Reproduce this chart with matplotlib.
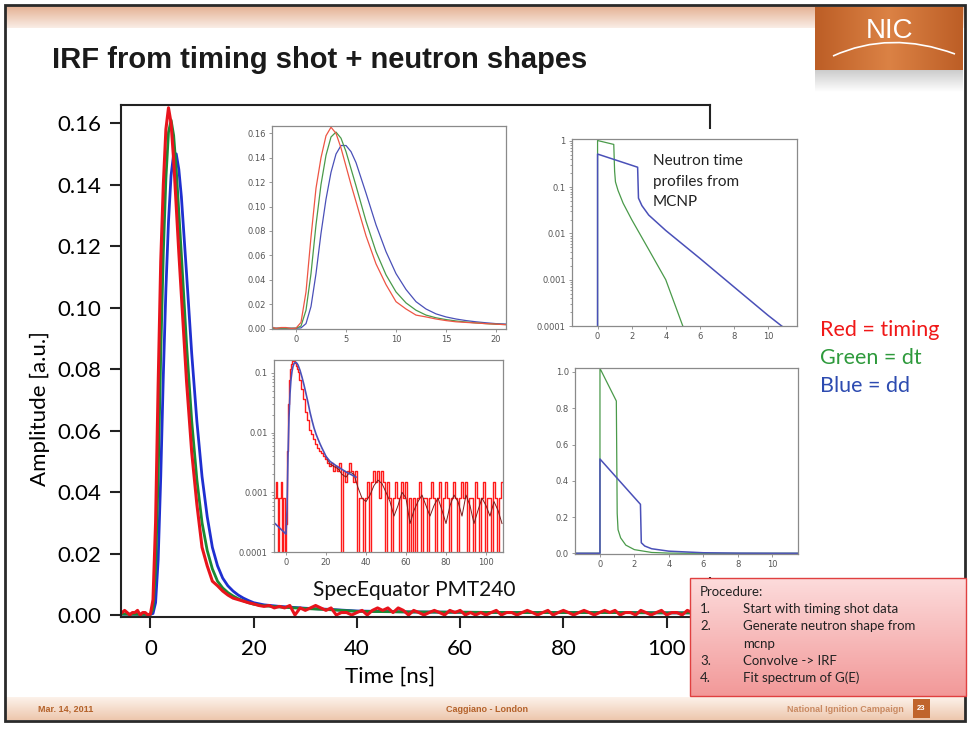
import numpy as np
import matplotlib
matplotlib.use('Agg')
import matplotlib.pyplot as plt
from matplotlib.patches import Rectangle, PathPatch
from matplotlib.path import Path
from matplotlib import font_manager

plt.rcParams['font.family'] = ['Lato', 'DejaVu Sans']

W, H = 969, 729

# timing shot (red), measured, with noisy tail
t_red = [-5.5, -5, -4.5, -4, -3.5, -3, -2.5, -2, -1.5, -1, -0.5,
         0, 0.5, 1, 1.5, 2, 2.5, 3, 3.5, 4, 4.5, 5, 5.5, 6,
         7, 8, 9, 10, 11, 12, 13, 14, 15, 16, 17, 18, 19, 20] + list(range(21, 109))
y_red = [0.0008, 0.0015, 0.0008, 0.0, 0.0008, 0.0008, 0.0015, 0.0, 0.0008, 0.0008, 0.0,
         0.0003, 0.005, 0.030, 0.075, 0.115, 0.140, 0.158, 0.165, 0.160, 0.148, 0.133, 0.118, 0.104,
         0.076, 0.053, 0.036, 0.022, 0.016, 0.011, 0.0095, 0.0078, 0.0065, 0.0055, 0.0050, 0.0045, 0.0040, 0.0036,
         0.0031, 0.0028, 0.0031, 0.0023, 0.0028, 0.0023, 0.0031, 0.0, 0.0023, 0.0015,
         0.0023, 0.0031, 0.0023, 0.0015, 0.0023, 0.0, 0.0008, 0.0008, 0.0, 0.0008,
         0.0015, 0.0, 0.0015, 0.0023, 0.0015, 0.0023, 0.0008, 0.0023, 0.0015, 0.0,
         0.0015, 0.0008, 0.0, 0.0008, 0.0015, 0.0008, 0.0, 0.0015, 0.0008, 0.0015,
         0.0, 0.0008, 0.0, 0.0008, 0.0, 0.0008, 0.0015, 0.0, 0.0008, 0.0008,
         0.0, 0.0008, 0.0015, 0.0008, 0.0, 0.0008, 0.0015, 0.0, 0.0008, 0.0015,
         0.0008, 0.0, 0.0008, 0.0015, 0.0008, 0.0, 0.0008, 0.0015, 0.0008, 0.0015,
         0.0, 0.0008, 0.0008, 0.0, 0.0015, 0.0008, 0.0, 0.0008, 0.0015, 0.0,
         0.0008, 0.0008, 0.0, 0.0015, 0.0008, 0.0, 0.0008, 0.0015]

# convolved shapes (green = dt, blue = dd)
t_model = [-5.5, 0, 0.5, 1, 1.5, 2, 2.5, 3, 3.5, 4, 4.5, 5, 5.5, 6,
           7, 8, 9, 10, 11, 12, 13, 14, 15, 16, 17, 18, 19, 20,
           22, 25, 30, 35, 40, 50, 60, 70, 80, 90, 100, 108]
y_green = [0.0003, 0.0002, 0.002, 0.015, 0.045, 0.085, 0.118, 0.142, 0.157, 0.161, 0.156, 0.145, 0.131, 0.117,
           0.088, 0.063, 0.044, 0.030, 0.021, 0.015, 0.011, 0.0088, 0.0073, 0.0062, 0.0053, 0.0046, 0.0040, 0.0035,
           0.0030, 0.0026, 0.0021, 0.0017, 0.0012, 0.0010, 0.0009, 0.0008, 0.0008, 0.0008, 0.0007, 0.0007]
y_blue = [0.0003, 0.0002, 0.0005, 0.004, 0.018, 0.045, 0.078, 0.106, 0.128, 0.143, 0.150, 0.150, 0.145, 0.136,
          0.111, 0.085, 0.063, 0.045, 0.032, 0.022, 0.016, 0.012, 0.0095, 0.0078, 0.0065, 0.0055, 0.0047, 0.0040,
          0.0033, 0.0028, 0.0022, 0.0018, 0.0013, 0.0010, 0.0009, 0.0008, 0.0008, 0.0008, 0.0007, 0.0007]

# smoothed tail (dark line in log inset)
t_fit = list(range(20, 109, 2))
y_fit = [0.0040, 0.0030, 0.0027, 0.0025, 0.0020, 0.0018, 0.0022, 0.0020, 0.0012, 0.0008,
         0.0007, 0.0009, 0.0013, 0.0016, 0.0014, 0.0010, 0.0007, 0.0004, 0.0006, 0.0010,
         0.0008, 0.0003, 0.0005, 0.0007, 0.0009, 0.0006, 0.0004, 0.0006, 0.0008, 0.0005,
         0.0003, 0.0006, 0.0009, 0.0007, 0.0004, 0.0009, 0.0006, 0.0003, 0.0005, 0.0008,
         0.0006, 0.0004, 0.0007, 0.0005, 0.0003]

# neutron time profiles from MCNP
t_dt = [-1.5, 0, 0, 0.95, 1.0, 1.05, 1.2, 1.5, 2.0, 3.0, 4.0, 5.0, 6.0, 11.7]
y_dt = [0, 0, 1.02, 0.84, 0.22, 0.13, 0.085, 0.045, 0.02, 0.0045, 0.001, 0.0001, 0.00002, 0]
t_dd = [-1.5, 0, 0, 2.35, 2.4, 2.6, 3.0, 4.0, 6.0, 8.0, 10.0, 10.8, 11.7]
y_dd = [0, 0, 0.52, 0.27, 0.058, 0.04, 0.025, 0.0116, 0.0029, 0.0007, 0.00017, 0.0001, 0.00006]

legend_labels = ['Red = timing', 'Green = dt', 'Blue = dd']
legend_colors = ['#f01818', '#2e9a3c', '#2d4bb0']
proc_nums = ['1.', '2.', '', '3.', '4.']
proc_lines = ['Start with timing shot data', 'Generate neutron shape from', 'mcnp',
              'Convolve -> IRF', 'Fit spectrum of G(E)']

try:
    font_manager.findfont('Liberation Sans Narrow', fallback_to_default=False)
    narrow, title_size = 'Liberation Sans Narrow', 23
except ValueError:
    narrow, title_size = 'Liberation Sans', 21


def px_axes(x0, y0, x1, y1):
    return [x0 / W, 1 - y1 / H, (x1 - x0) / W, (y1 - y0) / H]


def overlay(z):
    a = fig.add_axes([0, 0, 1, 1], zorder=z)
    a.set_xlim(0, W)
    a.set_ylim(H, 0)
    a.axis('off')
    a.patch.set_alpha(0)
    return a


def vgrad(a, x0, x1, y0, y1, c_top, c_bot):
    c_top, c_bot = np.array(c_top), np.array(c_bot)
    f = np.linspace(0, 1, 64)[:, None, None]
    a.imshow(c_top + f * (c_bot - c_top), extent=(x0, x1, y1, y0), aspect='auto',
             interpolation='bilinear')
    a.set_xlim(0, W)
    a.set_ylim(H, 0)


fig = plt.figure(figsize=(W / 100, H / 100), dpi=100)

# slide background
bg = overlay(0)
vgrad(bg, 5, 965, 5, 28, (0.89, 0.68, 0.56), (0.98, 0.93, 0.90))
vgrad(bg, 5, 965, 697, 720, (0.99, 0.95, 0.92), (0.93, 0.78, 0.68))
vgrad(bg, 815, 963, 70, 92, (0.80, 0.80, 0.80), (1, 1, 1))
g = 1 - np.abs(np.linspace(-1, 1, 64))
logo = np.stack([0.74 + 0.12 * g, 0.37 + 0.14 * g, 0.15 + 0.12 * g], axis=-1)[None, :, :]
bg.imshow(logo, extent=(815, 963, 70, 7), aspect='auto', interpolation='bilinear')
bg.set_xlim(0, W)
bg.set_ylim(H, 0)
bg.add_patch(PathPatch(Path([(833, 56), (890, 30), (955, 54)],
                            [Path.MOVETO, Path.CURVE3, Path.CURVE3]),
                       fc='none', ec='white', lw=1.2))
bg.text(890, 31, 'NIC', color='white', fontsize=20, family=narrow, ha='center', va='center')
bg.text(52, 60, 'IRF from timing shot + neutron shapes', fontsize=title_size, family=narrow,
        fontweight='bold', color='#1a1a1a', ha='left', va='center')
foot_col = '#b4622a'
bg.text(38, 709, 'Mar. 14, 2011', fontsize=6.5, family=narrow, fontweight='bold', color=foot_col, va='center')
bg.text(487, 709, 'Caggiano - London', fontsize=6.5, family=narrow, fontweight='bold', color=foot_col,
        ha='center', va='center')
bg.text(904, 709, 'National Ignition Campaign', fontsize=6.5, family=narrow, fontweight='bold',
        color='#c98a62', ha='right', va='center')
bg.add_patch(Rectangle((913, 699), 17, 19, fc='#c0642c', ec='none'))
bg.text(921.5, 708, '23', fontsize=5.5, family=narrow, fontweight='bold', color='white', ha='center', va='center')
bg.add_patch(Rectangle((5, 5), 960, 716, fc='none', ec='#2a2a2a', lw=2))

# main plot
ax = fig.add_axes(px_axes(121, 105, 710, 617), zorder=1)
ax.patch.set_alpha(0)
ax.plot(t_model, y_blue, color='#1f2fd0', lw=2.0)
ax.plot(t_model, y_green, color='#1b8a34', lw=2.0)
ax.plot(t_red, y_red, color='#e8141c', lw=2.2)
ax.set_xlim(-5.7, 108.4)
ax.set_ylim(-0.00065, 0.1659)
ax.set_xticks([0, 20, 40, 60, 80, 100])
ax.set_yticks(np.arange(0, 0.161, 0.02))
ax.yaxis.set_major_formatter(matplotlib.ticker.FormatStrFormatter('%.2f'))
ax.tick_params(direction='out', length=8, width=1.5, labelsize=16, color='#222')
ax.tick_params(axis='x', pad=8)
ax.tick_params(axis='y', pad=6)
for s in ax.spines.values():
    s.set_linewidth(1.5)
    s.set_color('#222')
ax.set_xlabel('Time [ns]', fontsize=16, va='center')
ax.xaxis.set_label_coords(0.457, -0.117)
ax.set_ylabel('Amplitude [a.u.]', fontsize=16, va='center')
ax.yaxis.set_label_coords(-0.1375, 0.408)

# white picture areas and procedure box
cov = overlay(2)
for x0, y0, x1, y1 in [(235, 120, 515, 352), (235, 352, 515, 577), (535, 129, 815, 357), (535, 357, 815, 577)]:
    cov.add_patch(Rectangle((x0, y0), x1 - x0, y1 - y0, fc='white', ec='none'))
vgrad(cov, 690, 966, 578, 696, (0.99, 0.86, 0.86), (0.95, 0.60, 0.60))
cov.add_patch(Rectangle((690, 578), 276, 118, fc='none', ec='#e04040', lw=1))

# insets
ins_kw = dict(direction='out', length=2.5, width=0.6, color='#888', labelsize=6,
              labelcolor='#555', labelfontfamily='DejaVu Sans', pad=2)
c_r, c_g, c_b = '#ee5544', '#4a9a4a', '#4a50b8'


def style(a):
    a.tick_params(which='both', **ins_kw)
    a.tick_params(which='minor', length=1.5)
    for s in a.spines.values():
        s.set_color('#8a8a8a')
        s.set_linewidth(0.9)


a1 = fig.add_axes(px_axes(272, 126, 506, 329), zorder=3)
a1.plot(t_model, y_blue, color=c_b, lw=0.9)
a1.plot(t_model, y_green, color=c_g, lw=0.9)
a1.plot(t_red, y_red, color=c_r, lw=0.9)
a1.set_xlim(-2.4, 21.0)
a1.set_ylim(-0.0004, 0.166)
a1.set_xticks([0, 5, 10, 15, 20])
a1.set_yticks(np.arange(0, 0.161, 0.02))
a1.yaxis.set_major_formatter(matplotlib.ticker.FormatStrFormatter('%.2f'))
style(a1)

a2 = fig.add_axes(px_axes(572, 139, 797, 326), zorder=3)
a2.set_yscale('log', nonpositive='clip')
a2.plot(t_dt, y_dt, color=c_g, lw=0.9)
a2.plot(t_dd, y_dd, color=c_b, lw=1.1)
a2.set_xlim(-1.5, 11.7)
a2.set_ylim(1e-4, 1.1)
a2.set_xticks([0, 2, 4, 6, 8, 10])
a2.set_yticks([1, 0.1, 0.01, 0.001, 0.0001], ['1', '0.1', '0.01', '0.001', '0.0001'])
style(a2)

a3 = fig.add_axes(px_axes(274, 360, 503, 552), zorder=3)
a3.set_yscale('log', nonpositive='clip')
a3.plot(t_red, y_red, color='#ff1a1a', lw=1.0, drawstyle='steps-mid')
a3.plot(t_fit, y_fit, color='#7a1c1c', lw=0.7)
a3.plot(t_model[:32], y_blue[:32], color=c_b, lw=1.2)
a3.set_xlim(-6, 108.5)
a3.set_ylim(1e-4, 0.165)
a3.set_xticks([0, 20, 40, 60, 80, 100])
a3.set_yticks([0.1, 0.01, 0.001, 0.0001], ['0.1', '0.01', '0.001', '0.0001'])
style(a3)

a4 = fig.add_axes(px_axes(575, 368, 798, 554), zorder=3)
a4.plot(t_dt, y_dt, color=c_g, lw=0.9)
a4.plot(t_dd, y_dd, color=c_b, lw=1.1)
a4.set_xlim(-1.45, 11.5)
a4.set_ylim(-0.004, 1.022)
a4.set_xticks([0, 2, 4, 6, 8, 10])
a4.set_yticks(np.arange(0, 1.01, 0.2))
a4.yaxis.set_major_formatter(matplotlib.ticker.FormatStrFormatter('%.1f'))
style(a4)

# texts on top
top = overlay(4)
for i, (lab, col) in enumerate(zip(legend_labels, legend_colors)):
    top.text(820, 330 + i * 28, lab, color=col, fontsize=15.5, va='center')
top.text(414, 590, 'SpecEquator PMT240', fontsize=15, ha='center', va='center', color='#111')
for i, line in enumerate(['Neutron time', 'profiles from', 'MCNP']):
    top.text(653, 161 + i * 20.5, line, fontsize=11, va='center', color='#222')
top.text(700, 592, 'Procedure:', fontsize=9.5, va='center', color='#222')
for i, (n, line) in enumerate(zip(proc_nums, proc_lines)):
    y = 609 + i * 17.25
    top.text(700, y, n, fontsize=9.5, va='center', color='#222')
    top.text(743, y, line, fontsize=9.5, va='center', color='#222')

fig.savefig('out.png', dpi=100)
